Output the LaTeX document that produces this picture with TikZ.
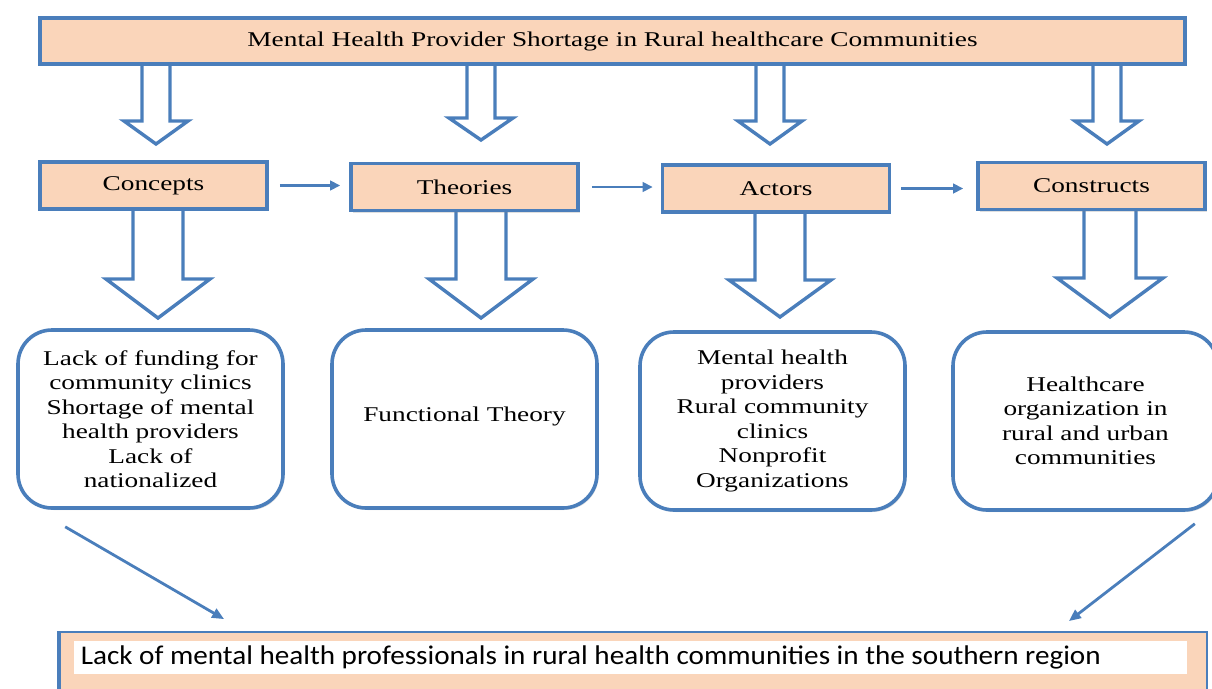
\documentclass[tikz,border=0pt]{standalone}
\usepackage{fontspec}
\setmainfont{Liberation Serif}[FakeStretch=1.3]
\newfontfamily\calibri{Carlito}[FakeStretch=1.08]
\usetikzlibrary{arrows.meta,calc,shadows}

\definecolor{peach}{RGB}{250,213,186}
\definecolor{frame}{RGB}{74,126,187}

% hollow block arrow pointing down: centre x, top y, head start y, tip y, shaft half width, head half width
\newcommand\blockdown[6]{%
  \draw[blockarrow] (#1-#5,#2) -- (#1-#5,#3) -- (#1-#6,#3) -- (#1,#4)
    -- (#1+#6,#3) -- (#1+#5,#3) -- (#1+#5,#2) -- cycle;}

\begin{document}
\begin{tikzpicture}[x=1pt,y=-1pt,
  softshadow/.style={drop shadow={shadow xshift=1.5pt,shadow yshift=-2pt,opacity=0.25}},
  titlebox/.style={draw=frame,line width=3.6pt,fill=peach,inner sep=0pt,softshadow,
    font=\fontsize{21}{24}\selectfont},
  headbox/.style={draw=frame,line width=3.6pt,fill=peach,inner sep=0pt,softshadow,
    minimum width=227,minimum height=47,font=\fontsize{21}{24}\selectfont},
  roundbox/.style={draw=frame,line width=3.6pt,fill=white,rounded corners=34pt,inner sep=0pt,
    softshadow,minimum width=265,minimum height=178,align=center,
    font=\fontsize{21}{24.5}\selectfont},
  blockarrow/.style={draw=frame,line width=3.4pt,fill=white,line join=miter},
  conn/.style={draw=frame,line width=2.8pt,-{Triangle[length=10pt,width=9.5pt]}},
]
\useasboundingbox (0,0) rectangle (1212,688);
\clip (0,0) rectangle (1212,688);

% block arrows from the title bar down to the four headings
\blockdown{156}{62}{121}{144}{14}{32}
\blockdown{481}{62}{118}{140}{14}{32}
\blockdown{770}{62}{121}{144}{14}{32}
\blockdown{1107}{62}{121}{144}{14}{32}

% block arrows from the headings down to their details
\blockdown{158}{207}{279}{318}{25}{52}
\blockdown{481}{208}{279}{318}{25}{52}
\blockdown{780}{210}{280}{317}{25}{51}
\blockdown{1110}{208}{278}{317}{26}{53}

% title bar
\node[titlebox,minimum width=1145,minimum height=46] (title) at (612.5,41)
  {Mental Health Provider Shortage in Rural healthcare Communities};

% headings
\node[headbox] (concepts)   at (153.5,185.5) {Concepts};
\node[headbox] (theories)   at (464.5,187)   {Theories};
\node[headbox] (actors)     at (776,188.5)   {Actors};
\node[headbox] (constructs) at (1091.5,186)  {Constructs};

% details
\node[roundbox] (b1) at (150.5,419) {Lack of funding for\\community clinics\\Shortage of mental\\health providers\\Lack of\\nationalized};
\node[roundbox] (b2) at (464.5,419) {\raisebox{9pt}{Functional Theory}};
\node[roundbox] (b3) at (772.5,421) {Mental health\\providers\\Rural community\\clinics\\Nonprofit\\Organizations};
\node[roundbox] (b4) at (1085.5,421) {Healthcare\\organization in\\rural and urban\\communities};

% outcome box
\node[fill=peach,draw=frame,line width=1.8pt,minimum width=1147,minimum height=70,inner sep=0pt]
  (goal) at (633.5,667) {};
\draw[frame,line width=4pt] (goal.north west) -- (goal.south west);
\node[fill=white,minimum width=1113,minimum height=33,inner sep=0pt,anchor=north west,
  font=\calibri\fontsize{27}{30}\selectfont]
  (goaltext) at ($(goal.north west)+(15,10)$)
  {\makebox[1100pt][l]{Lack of mental health professionals in rural health communities in the southern region}};

% flow between headings
\draw[conn,shorten <=11pt,shorten >=9pt] (concepts.east) -- (concepts.east -| theories.west);
\draw[conn,shorten <=12pt,shorten >=8pt] (theories.east) -- (theories.east -| actors.west);
\draw[conn,shorten <=10pt,shorten >=13pt] (actors.east) -- (actors.east -| constructs.west);

% links into the outcome
\draw[conn,-{Triangle[length=12pt,width=10pt]}] ($(b1.south west)+(49,17)$) -- ($(goal.north west)+(165,-12)$);
\draw[conn,-{Triangle[length=12pt,width=10pt]}] ($(b4.south east)+(-25,12)$) -- ($(goal.north east)+(-139,-10)$);
\end{tikzpicture}
\end{document}
